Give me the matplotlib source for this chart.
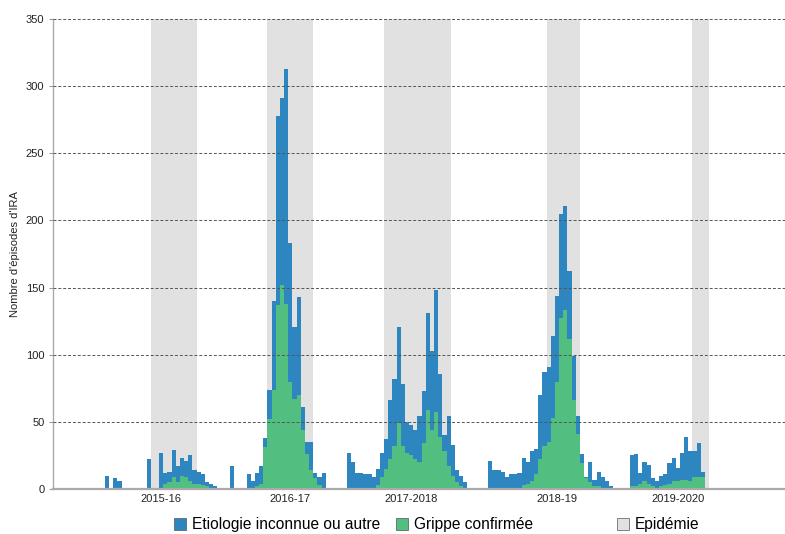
import matplotlib
matplotlib.use("Agg")
import matplotlib.pyplot as plt
from matplotlib.patches import Patch

# ---- data (weekly index, gaps = 0) ----
flu = [0,0,0,0,0,0,0,0,0,0,
       0,0,0,1,4,5,9,5,10,9,
       6,4,4,3,2,1,0,0,0,0,
       1,0,0,0,0,1,2,4,31,52,
       74,137,152,138,80,67,70,44,26,14,
       8,3,1,0,0,0,0,0,0,0,
       1,1,1,1,1,3,9,15,22,32,
       49,32,27,25,22,20,34,59,44,57,
       39,28,17,10,5,2,1,0,0,0,
       0,0,0,0,0,0,0,0,1,1,
       3,4,6,11,22,32,35,53,80,127,
       133,112,66,41,19,8,5,2,2,1,
       0,0,0,0,0,0,2,2,4,6,
       4,2,1,2,3,4,6,6,7,7,
       6,9,9,9]

other = [10,0,8,6,0,0,0,0,0,0,
         22,0,0,26,8,8,20,12,13,12,
         19,10,9,8,3,3,2,0,0,0,
         16,0,0,0,11,5,10,13,7,22,
         66,141,139,175,103,54,73,17,9,21,
         4,6,11,0,0,0,0,0,27,20,
         11,11,10,10,8,12,18,22,44,50,
         72,46,23,23,22,34,39,72,59,91,
         47,12,37,23,9,8,4,0,0,0,
         0,0,21,14,14,13,9,11,10,11,
         20,16,22,19,48,55,56,61,64,78,
         78,50,33,13,7,1,15,5,11,8,
         6,2,0,0,0,0,23,24,8,14,
         14,6,5,8,8,15,17,10,20,32,
         22,19,25,4]

epidemic_start = [11, 39, 67, 106, 141]
epidemic_end = [22, 50, 83, 114, 145]

season_labels = ["2015-16", "2016-17", "2017-2018", "2018-19", "2019-2020"]
season_label_week = [13, 44, 73, 108, 137]

legend_labels = ["Etiologie inconnue ou autre", "Grippe confirmée", "Epidémie"]

# ---- style ----
plt.rcParams['font.family'] = ['Liberation Sans', 'DejaVu Sans']
BLUE = "#2E86C1"
GREEN = "#52BE80"
GREY = "#E1E1E1"

W, H = 785, 534
fig = plt.figure(figsize=(W / 100, H / 100), dpi=100)
ax = fig.add_axes([52.7 / W, (H - 489) / H, (785 - 52.7) / W, (489 - 19) / H])

weeks = list(range(len(flu)))

for s, e in zip(epidemic_start, epidemic_end):
    ax.axvspan(s, e, color=GREY, zorder=0, lw=0)

ax.bar(weeks, flu, width=1.0, align='edge', color=GREEN, lw=0, zorder=2)
ax.bar(weeks, other, width=1.0, align='edge', bottom=flu, color=BLUE, lw=0, zorder=2)

ax.set_xlim(-12.55, 163.2)
ax.set_ylim(0, 350)
ax.set_yticks(range(0, 351, 50))
ax.yaxis.grid(True, linestyle=(0, (3, 2)), color="#555555", linewidth=0.7, zorder=1)
ax.set_axisbelow(False)
for gl in ax.get_ygridlines():
    gl.set_zorder(1)

ax.set_xticks([w + 0.5 for w in season_label_week])
ax.set_xticklabels(season_labels)
ax.tick_params(axis='x', length=0, pad=3.5, labelsize=8, colors="#222222")
ax.tick_params(axis='y', length=3, width=0.8, color="#999999", pad=3, labelsize=8, labelcolor="#222222")

for side in ['top', 'right']:
    ax.spines[side].set_visible(False)
ax.spines['left'].set_color("#aaaaaa")
ax.spines['left'].set_linewidth(1.0)
ax.spines['bottom'].set_color("#aaaaaa")
ax.spines['bottom'].set_linewidth(1.6)
ax.spines['bottom'].set_zorder(3)

ax.set_ylabel("Nombre d'épisodes d'IRA", fontsize=8, labelpad=4, color="#222222")

handles = [Patch(facecolor=BLUE, edgecolor="#555555", lw=0.5),
           Patch(facecolor=GREEN, edgecolor="#555555", lw=0.5),
           Patch(facecolor=GREY, edgecolor="#555555", lw=0.5)]
legend_x = [174, 396, 617]
for h, lab, lx in zip(handles, legend_labels, legend_x):
    fig.legend(handles=[h], labels=[lab], loc='center left',
               bbox_to_anchor=(lx / W, 1 - 525 / H), frameon=False,
               fontsize=11.2, handlelength=0.8, handleheight=0.8,
               handletextpad=0.35, borderpad=0, borderaxespad=0)

fig.savefig("out.png", dpi=100)
